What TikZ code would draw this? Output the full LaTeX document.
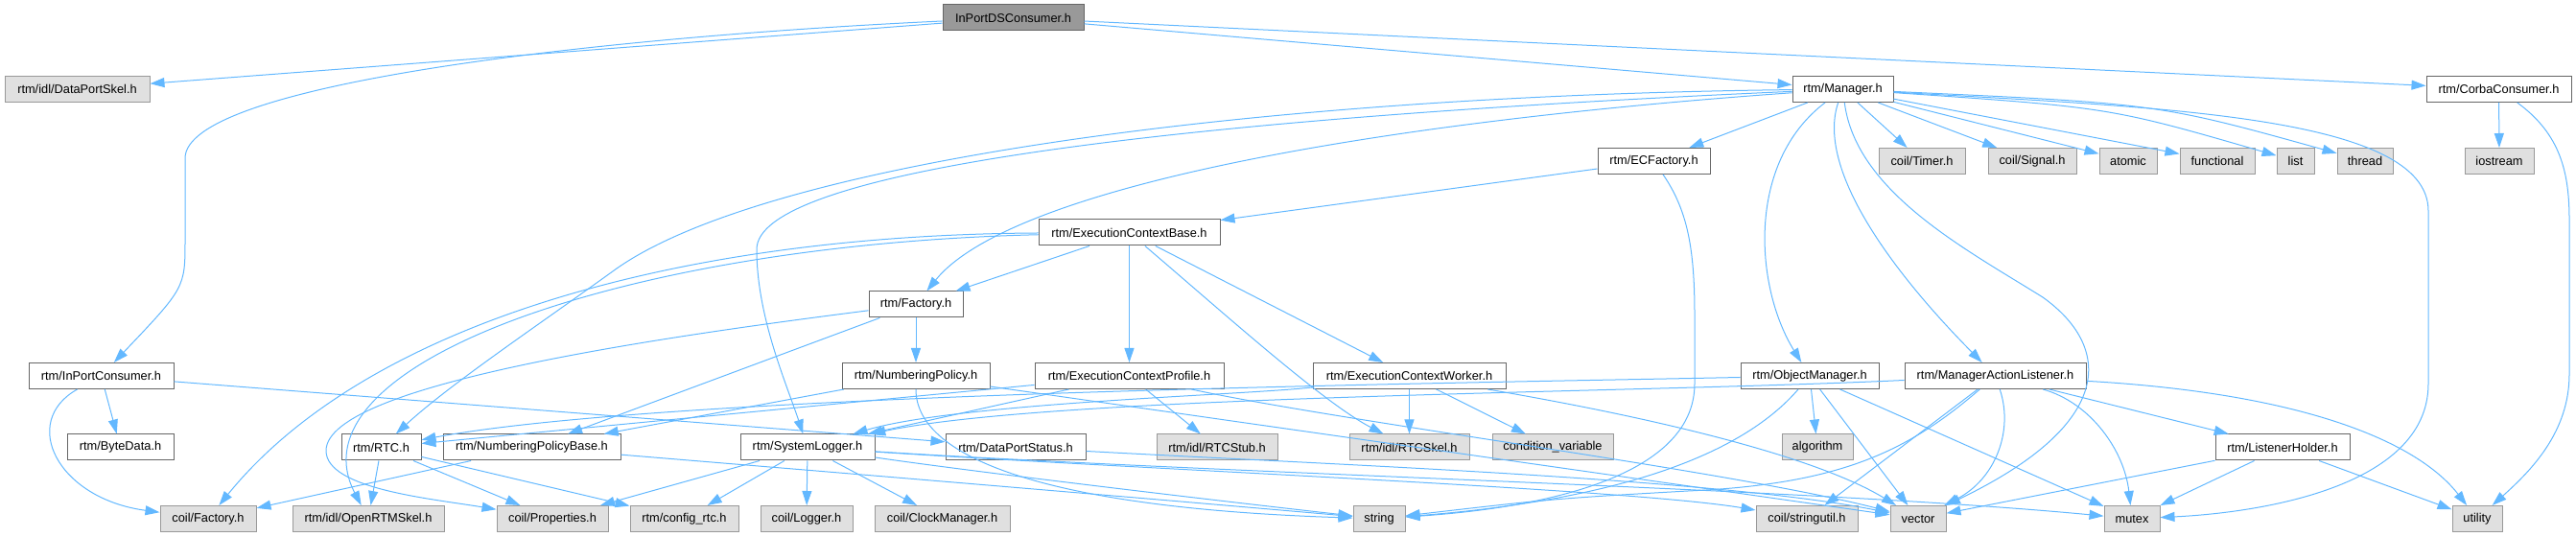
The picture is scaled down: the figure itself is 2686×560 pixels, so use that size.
\documentclass[tikz,border=0pt]{standalone}
\usepackage{fontspec}
\setmainfont{Liberation Sans}
\usetikzlibrary{arrows.meta}
\definecolor{edgeblue}{HTML}{63B8FF}
\begin{document}
\begin{tikzpicture}[x=0.5pt, y=-0.5pt,
  node_style/.style={draw=black!60, fill=white, line width=0.5pt, minimum height=13.5pt, inner sep=0pt, font=\fontsize{6.4}{7.5}\selectfont},
  sys_style/.style={node_style, draw=black!40, fill=black!12},
  root_style/.style={node_style, fill=black!40},
  wd/.style={minimum width=#1*0.5pt},
  edge_style/.style={draw=edgeblue, line width=0.5pt, -{Triangle[length=7.5pt,width=5pt]}}]
  \useasboundingbox (0,0) rectangle (2686,560);
  \draw
    (1056.5,18.5) node[root_style,wd=147] (root){InPortDSConsumer.h}
    (80.5,93) node[sys_style,wd=151] (dps){rtm/idl/DataPortSkel.h}
    (1921.5,93) node[node_style,wd=105] (mgr){rtm/Manager.h}
    (2605.5,93) node[node_style,wd=151] (corba){rtm/CorbaConsumer.h}
    (1724.5,168) node[node_style,wd=117] (ecf){rtm/ECFactory.h}
    (2004,168) node[sys_style,wd=90] (timer){coil/Timer.h}
    (2119,168) node[sys_style,wd=92] (signal){coil/Signal.h}
    (2219,168) node[sys_style,wd=60] (atomic){atomic}
    (2312,168) node[sys_style,wd=78] (functional){functional}
    (2393.5,168) node[sys_style,wd=39] (list){list}
    (2466,168) node[sys_style,wd=58] (thread){thread}
    (2606,168) node[sys_style,wd=72] (iostream){iostream}
    (1177.5,242.5) node[node_style,wd=189] (ecbase){rtm/ExecutionContextBase.h}
    (955,317.5) node[node_style,wd=98] (factory){rtm/Factory.h}
    (105.5,392) node[node_style,wd=151] (ipc){rtm/InPortConsumer.h}
    (955,392) node[node_style,wd=154] (npol){rtm/NumberingPolicy.h}
    (1177.5,392) node[node_style,wd=197] (ecprof){rtm/ExecutionContextProfile.h}
    (1469.5,392) node[node_style,wd=201] (ecwork){rtm/ExecutionContextWorker.h}
    (1887,392) node[node_style,wd=144] (objm){rtm/ObjectManager.h}
    (2080.5,392) node[node_style,wd=189] (mal){rtm/ManagerActionListener.h}
    (125.5,466.5) node[node_style,wd=111] (byte){rtm/ByteData.h}
    (397.5,466.5) node[node_style,wd=83] (rtc){rtm/RTC.h}
    (554.5,466.5) node[node_style,wd=185] (npb){rtm/NumberingPolicyBase.h}
    (842,466.5) node[node_style,wd=140] (slog){rtm/SystemLogger.h}
    (1059,466.5) node[node_style,wd=146] (dpst){rtm/DataPortStatus.h}
    (1269,466.5) node[sys_style,wd=126] (rtcstub){rtm/idl/RTCStub.h}
    (1469.5,466.5) node[sys_style,wd=125] (rtcskel){rtm/idl/RTCSkel.h}
    (1619,466.5) node[sys_style,wd=126] (condvar){condition\_variable}
    (1895,466.5) node[sys_style,wd=74] (algo){algorithm}
    (2380,466.5) node[node_style,wd=140] (lh){rtm/ListenerHolder.h}
    (217,541) node[sys_style,wd=100] (cfact){coil/Factory.h}
    (384,541) node[sys_style,wd=158] (ortmskel){rtm/idl/OpenRTMSkel.h}
    (576,541) node[sys_style,wd=116] (props){coil/Properties.h}
    (713.5,541) node[sys_style,wd=113] (cfg){rtm/config\_rtc.h}
    (841,541) node[sys_style,wd=96] (logger){coil/Logger.h}
    (982.5,541) node[sys_style,wd=141] (clock){coil/ClockManager.h}
    (1438,541) node[sys_style,wd=54] (string){string}
    (1884,541) node[sys_style,wd=106] (strutil){coil/stringutil.h}
    (2000,541) node[sys_style,wd=58] (vector){vector}
    (2223,541) node[sys_style,wd=58] (mutex){mutex}
    (2583,541) node[sys_style,wd=52] (utility){utility};
  \begin{scope}[->]
    % top level
    \draw[edge_style] (root) to (dps);
    \draw[edge_style] (root) to (mgr);
    \draw[edge_style] (root) to (corba);
    \draw[edge_style] (root) .. controls (600,40) and (193,90) .. (193,165) -- (193,250) .. controls (193,300) .. (ipc);
    % manager
    \draw[edge_style] (mgr) to (ecf);
    \draw[edge_style] (mgr) to (timer);
    \draw[edge_style] (mgr) to (signal);
    \draw[edge_style] (mgr) to (atomic);
    \draw[edge_style] (mgr) to (functional);
    \draw[edge_style] (mgr) .. controls (2200,112) .. (list);
    \draw[edge_style] (mgr) .. controls (2250,108) .. (thread);
    \draw[edge_style] (mgr) .. controls (2250,112) and (2532,120) .. (2532,220) -- (2532,400) .. controls (2532,510) and (2350,535) .. (mutex);
    \draw[edge_style] (mgr) .. controls (1935,200) and (2050,260) .. (2130,310) .. controls (2200,360) and (2210,440) .. (vector);
    \draw[edge_style] (mgr) .. controls (1820,170) and (1830,300) .. (objm);
    \draw[edge_style] (mgr) .. controls (1895,170) and (1960,270) .. (mal);
    \draw[edge_style] (mgr) .. controls (1200,125) and (789,180) .. (789,260) .. controls (789,330) and (820,400) .. (slog);
    \draw[edge_style] (mgr) .. controls (1400,130) and (1050,200) .. (factory);
    \draw[edge_style] (mgr) .. controls (1300,100) and (800,170) .. (643,280) .. controls (560,340) and (470,400) .. (rtc);
    % corba
    \draw[edge_style] (corba) to (iostream);
    \draw[edge_style] (corba) .. controls (2670,140) and (2679,180) .. (2679,230) -- (2679,390) .. controls (2679,450) and (2640,490) .. (utility);
    % ec factory and base
    \draw[edge_style] (ecf) to (ecbase);
    \draw[edge_style] (ecf) .. controls (1760,220) and (1767,260) .. (1767,330) -- (1767,400) .. controls (1767,500) and (1600,530) .. (string);
    \draw[edge_style] (ecbase) .. controls (700,245) and (380,340) .. (cfact);
    \draw[edge_style] (ecbase) .. controls (650,255) and (300,380) .. (ortmskel);
    \draw[edge_style] (ecbase) to (factory);
    \draw[edge_style] (ecbase) to (ecprof);
    \draw[edge_style] (ecbase) .. controls (1280,330) and (1380,420) .. (rtcskel);
    \draw[edge_style] (ecbase) to (ecwork);
    % factory
    \draw[edge_style] (factory) to (npol);
    \draw[edge_style] (factory) to (npb);
    \draw[edge_style] (factory) .. controls (700,350) and (340,400) .. (340,470) .. controls (340,510) and (450,520) .. (props);
    % inport consumer
    \draw[edge_style] (ipc) to (byte);
    \draw[edge_style] (ipc) .. controls (20,440) and (60,520) .. (cfact);
    \draw[edge_style] (ipc) to (dpst);
    % rtc
    \draw[edge_style] (rtc) to (ortmskel);
    \draw[edge_style] (rtc) to (cfg);
    \draw[edge_style] (rtc) to (props);
    % numbering policy
    \draw[edge_style] (npol) to (npb);
    \draw[edge_style] (npol) .. controls (955,480) and (1100,530) .. (string);
    \draw[edge_style] (npol) to (vector);
    \draw[edge_style] (npb) to (cfact);
    \draw[edge_style] (npb) .. controls (900,495) and (1200,520) .. (string);
    % system logger
    \draw[edge_style] (slog) to (logger);
    \draw[edge_style] (slog) to (clock);
    \draw[edge_style] (slog) to (cfg);
    \draw[edge_style] (slog) to (props);
    \draw[edge_style] (slog) .. controls (1000,490) and (1250,520) .. (string);
    \draw[edge_style] (slog) .. controls (1200,490) and (1700,510) .. (strutil);
    \draw[edge_style] (slog) .. controls (1300,495) and (1900,510) .. (mutex);
    \draw[edge_style] (dpst) .. controls (1400,485) and (1800,500) .. (vector);
    % ec profile and worker
    \draw[edge_style] (ecprof) to (rtcstub);
    \draw[edge_style] (ecprof) to (slog);
    \draw[edge_style] (ecprof) to (rtc);
    \draw[edge_style] (ecprof) .. controls (1400,440) and (1800,490) .. (vector);
    \draw[edge_style] (ecwork) to (rtcskel);
    \draw[edge_style] (ecwork) to (condvar);
    \draw[edge_style] (ecwork) .. controls (1750,440) and (1900,480) .. (vector);
    \draw[edge_style] (ecwork) .. controls (1300,412) and (1000,420) .. (slog);
    % object manager
    \draw[edge_style] (objm) to (algo);
    \draw[edge_style] (objm) to (vector);
    \draw[edge_style] (objm) to (mutex);
    \draw[edge_style] (objm) .. controls (1820,470) and (1700,520) .. (string);
    \draw[edge_style] (objm) .. controls (1500,400) and (700,410) .. (rtc);
    % manager action listener
    \draw[edge_style] (mal) to (lh);
    \draw[edge_style] (mal) .. controls (2400,410) and (2520,460) .. (utility);
    \draw[edge_style] (mal) .. controls (2180,420) and (2215,470) .. (mutex);
    \draw[edge_style] (mal) .. controls (2100,450) and (2080,500) .. (vector);
    \draw[edge_style] (mal) to (strutil);
    \draw[edge_style] (mal) .. controls (1990,470) and (1920,505) .. (1760,512) .. controls (1620,520) .. (string);
    \draw[edge_style] (mal) .. controls (1700,410) and (1100,412) .. (slog);
    % listener holder
    \draw[edge_style] (lh) to (mutex);
    \draw[edge_style] (lh) to (utility);
    \draw[edge_style] (lh) to (vector);
  \end{scope}
\end{tikzpicture}
\end{document}
